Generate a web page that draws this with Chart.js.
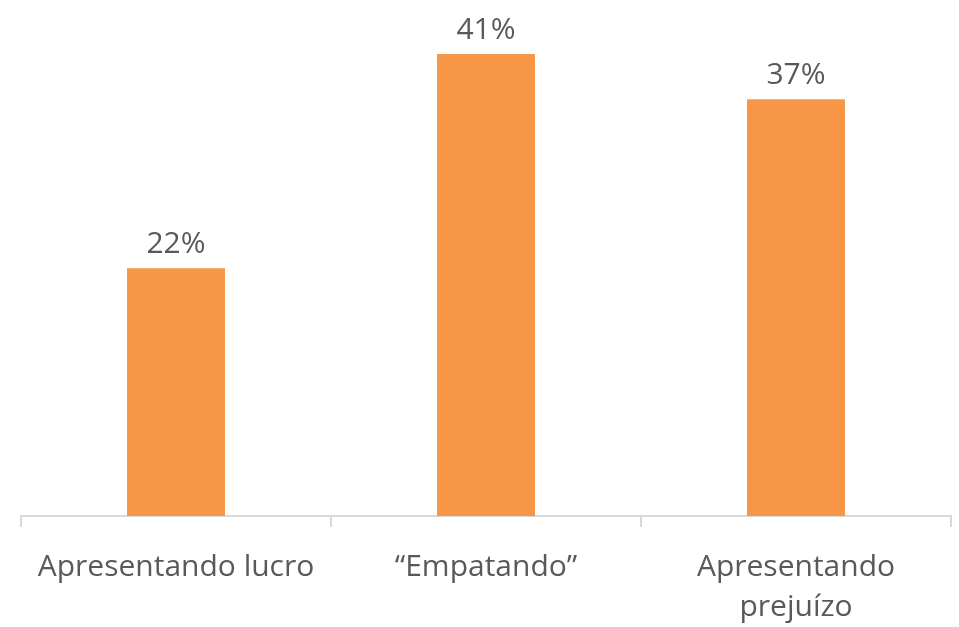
<!DOCTYPE html>
<html>
<head>
<meta charset="utf-8">
<script src="https://cdn.jsdelivr.net/npm/chart.js@4"></script>
<style>
  html, body { margin: 0; background: #fff; overflow: hidden; }
</style>
</head>
<body>
<canvas id="myChart" width="959" height="648"></canvas>
<script>
'use strict';

let categories = ['Apresentando lucro', '\u201cEmpatando\u201d', ['Apresentando', 'preju\u00edzo']];
let percentValues = [22, 41, 37];
let barColor = '#F79646';
let textColor = '#595959';
let fontFamily = '"Open Sans", "Noto Sans", sans-serif';

// draws the "22%" style labels above each bar
const valueLabels = {
  id: 'valueLabels',
  afterDatasetsDraw(chart) {
    let ctx = chart.ctx;
    let meta = chart.getDatasetMeta(0);
    ctx.save();
    ctx.font = '30px ' + fontFamily;
    ctx.fillStyle = textColor;
    ctx.textAlign = 'center';
    ctx.textBaseline = 'bottom';
    meta.data.forEach(function (bar, i) {
      ctx.fillText(percentValues[i] + '%', bar.x, bar.y - 9);
    });
    ctx.restore();
  }
};

const config = {
  type: 'bar',
  data: {
    labels: categories,
    datasets: [{
      data: percentValues,
      backgroundColor: barColor,
      borderWidth: 0,
      categoryPercentage: 1,
      barPercentage: 0.316,
    }],
  },
  options: {
    responsive: false,
    animation: false,
    layout: { padding: { left: 21, right: 8, top: 9, bottom: 0 } },
    plugins: {
      legend: { display: false },
      tooltip: { enabled: false },
    },
    scales: {
      x: {
        offset: true,
        grid: {
          display: true,
          offset: true,
          drawOnChartArea: false,
          drawTicks: true,
          tickLength: 11,
          color: '#d9d9d9',
          lineWidth: 2,
        },
        border: { display: true, color: '#d9d9d9', width: 2 },
        ticks: {
          color: textColor,
          font: { family: fontFamily, size: 30, lineHeight: 1.35 },
          padding: 20,
          maxRotation: 0,
          autoSkip: false,
        },
      },
      y: {
        display: false,
        min: 0,
        max: 45,
      },
    },
  },
  plugins: [valueLabels],
};

let chartCanvas = document.getElementById('myChart').getContext('2d');
const myChart = new Chart(chartCanvas, config);
</script>
</body>
</html>
